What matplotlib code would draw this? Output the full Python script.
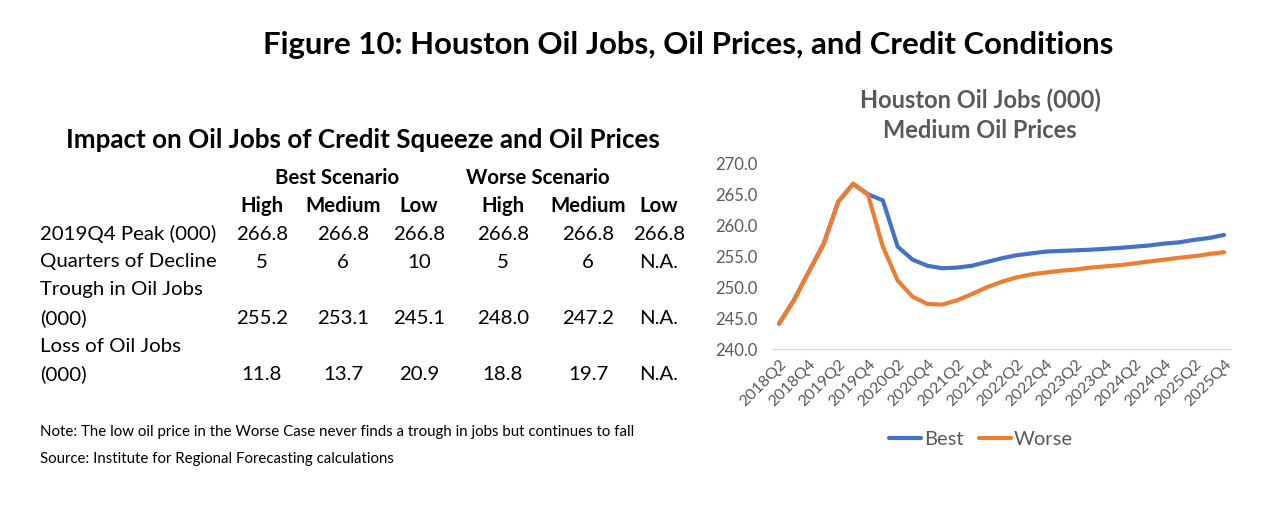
import matplotlib
matplotlib.use("Agg")
import matplotlib.pyplot as plt

plt.rcParams['font.family'] = ['Lato', 'DejaVu Sans']

# ---- data ----
tick_labels = ["2018Q2", "2018Q4", "2019Q2", "2019Q4", "2020Q2", "2020Q4",
               "2021Q2", "2021Q4", "2022Q2", "2022Q4", "2023Q2", "2023Q4",
               "2024Q2", "2024Q4", "2025Q2", "2025Q4"]
best = [244.1, 247.9, 252.5, 257.0, 263.9, 266.8, 265.1, 264.1, 256.6, 254.5,
        253.5, 253.1, 253.2, 253.5, 254.1, 254.7, 255.2, 255.5, 255.8, 255.9,
        256.0, 256.1, 256.25, 256.4, 256.6, 256.8, 257.1, 257.3, 257.7, 258.0, 258.5]
worse = [244.1, 247.9, 252.5, 257.0, 263.9, 266.8, 265.0, 256.6, 251.1, 248.5,
         247.3, 247.2, 247.9, 248.9, 250.0, 250.9, 251.6, 252.1, 252.4, 252.7,
         252.9, 253.2, 253.4, 253.6, 253.9, 254.2, 254.5, 254.8, 255.05, 255.4, 255.7]
yticks = [240.0, 245.0, 250.0, 255.0, 260.0, 265.0, 270.0]

table_groups = ["Best Scenario", "Worse Scenario"]
table_cols = ["High", "Medium", "Low", "High", "Medium", "Low"]
row_labels = ["2019Q4 Peak (000)", "Quarters of Decline", "Trough in Oil Jobs", "(000)",
              "Loss of Oil Jobs", "(000)"]
row_values = [
    ["266.8", "266.8", "266.8", "266.8", "266.8", "266.8"],
    ["5", "6", "10", "5", "6", "N.A."],
    None,
    ["255.2", "253.1", "245.1", "248.0", "247.2", "N.A."],
    None,
    ["11.8", "13.7", "20.9", "18.8", "19.7", "N.A."],
]

W, H = 1280, 525
fig = plt.figure(figsize=(W / 100, H / 100), dpi=100)
fig.patch.set_facecolor("white")

def px(x, y):
    return x / W, 1 - y / H

# main title
fig.text(*px(688, 45), "Figure 10: Houston Oil Jobs, Oil Prices, and Credit Conditions",
         ha="center", va="center", fontsize=22.4, fontweight="bold", color="black")

# left table
fig.text(*px(363, 140), "Impact on Oil Jobs of Credit Squeeze and Oil Prices",
         ha="center", va="center", fontsize=18.7, fontweight="bold", color="black")
group_x = [337, 538]
for g, gx in zip(table_groups, group_x):
    fig.text(*px(gx, 178), g, ha="center", va="center", fontsize=14.7,
             fontweight="bold", color="black")
col_x = [262, 343, 419, 503, 588, 659]
for c, cx in zip(table_cols, col_x):
    fig.text(*px(cx, 206), c, ha="center", va="center", fontsize=14.7,
             fontweight="bold", color="black")
row_y = [234, 262, 290, 318, 346, 374]
for lab, vals, ry in zip(row_labels, row_values, row_y):
    fig.text(*px(40, ry), lab, ha="left", va="center", fontsize=14.7, color="black")
    if vals:
        for v, cx in zip(vals, col_x):
            fig.text(*px(cx, ry), v, ha="center", va="center", fontsize=14.7, color="black")

fig.text(*px(40, 432), "Note: The low oil price in the Worse Case never finds a trough in jobs but continues to fall",
         ha="left", va="center", fontsize=10.8, color="black")
fig.text(*px(40, 459), "Source: Institute for Regional Forecasting calculations",
         ha="left", va="center", fontsize=10.8, color="black")

# right chart
gray = "#595959"
fig.text(*px(980, 100), "Houston Oil Jobs (000)", ha="center", va="center",
         fontsize=17, fontweight="bold", color=gray)
fig.text(*px(980, 130), "Medium Oil Prices", ha="center", va="center",
         fontsize=17, fontweight="bold", color=gray)

left, right = 771.6, 1231.4
top, bottom = 164, 349
ax = fig.add_axes([left / W, 1 - bottom / H, (right - left) / W, (bottom - top) / H])
x = list(range(len(best)))
ax.plot(x, best, color="#4472C4", lw=3, label="Best", solid_capstyle="round")
ax.plot(x, worse, color="#ED7D31", lw=3, label="Worse", solid_capstyle="round")
ax.set_xlim(-0.5, len(best) - 0.5)
ax.set_ylim(240, 270)
ax.set_yticks(yticks)
ax.set_yticklabels([f"{v:.1f}" for v in yticks])
ax.set_xticks(x[::2])
ax.set_xticklabels(tick_labels, rotation=45, ha="right", rotation_mode="anchor")
for s in ["top", "right", "left"]:
    ax.spines[s].set_visible(False)
ax.spines["bottom"].set_color("#D9D9D9")
ax.spines["bottom"].set_linewidth(1)
ax.tick_params(axis="both", length=0, colors=gray)
ax.tick_params(axis="y", pad=10, labelsize=12)
ax.tick_params(axis="x", pad=6, labelsize=11.5)
ax.set_facecolor("none")

fig.legend(loc="center", bbox_to_anchor=px(981, 439), ncol=2, frameon=False,
           fontsize=14.5, handlelength=1.55, handletextpad=0.15, columnspacing=0.8,
           labelcolor=gray)

fig.savefig("out.png", dpi=100)
